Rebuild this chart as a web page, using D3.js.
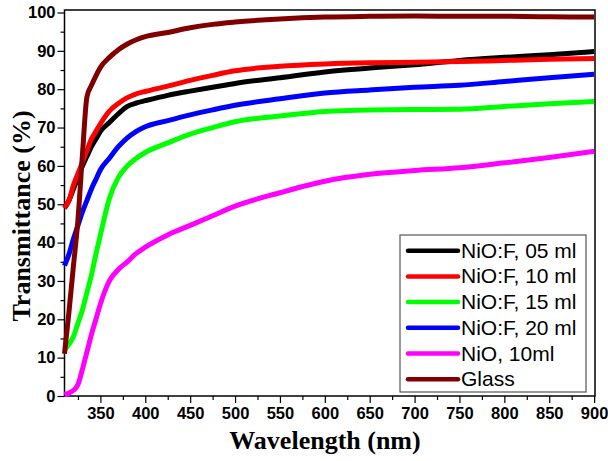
<!DOCTYPE html>
<html>
<head>
<meta charset="utf-8">
<script src="https://cdn.jsdelivr.net/npm/d3@7"></script>
<style>
  body { margin: 0; background: #fff; }
  .tick text { font-family: "Liberation Sans", Arial, sans-serif; font-weight: bold; font-size: 16.5px; fill: #000; }
  .title { font-family: "Liberation Serif", "Times New Roman", serif; font-weight: bold; font-size: 26px; }
  .legend text { font-family: "Liberation Sans", Arial, sans-serif; font-size: 21px; }
</style>
</head>
<body>
<svg id="chart" width="608" height="461"></svg>
<script>
// Wavelength grid (nm) shared by every curve.
const wavelength = [310, 315, 320, 325, 330, 335, 340, 345, 350, 360, 370, 380, 390, 400,
                    425, 450, 475, 500, 550, 600, 650, 700, 750, 800, 850, 900];

// Transmittance (%) of each sample.
const nioF05 = [49, 51, 54, 57, 60, 62.5, 65, 67, 69, 71.3, 73.6, 75.5, 76.4, 77,
                78.4, 79.5, 80.5, 81.5, 83, 84.5, 85.5, 86.4, 87.5, 88.3, 89, 89.8];
const nioF10 = [49, 51, 55, 58, 61, 64, 67, 69, 71, 74.3, 76.3, 77.8, 78.8, 79.4,
                80.8, 82.3, 83.6, 84.8, 86, 86.6, 86.9, 87, 87.2, 87.5, 87.8, 88];
const nioF15 = [12, 13.5, 15.5, 19, 22.5, 27, 31.5, 37, 42, 51.5, 57, 60, 62, 63.5,
                66, 68.3, 70, 71.5, 73, 74.2, 74.6, 74.7, 74.8, 75.5, 76.2, 76.8];
const nioF20 = [34, 37, 41, 44.5, 48, 51, 54, 56.5, 59, 62, 65, 67.3, 69, 70.2,
                71.8, 73.3, 74.6, 75.8, 77.5, 79, 79.8, 80.5, 81, 82, 83, 83.9];
const nio10  = [0.3, 0.8, 1.5, 3, 7, 11.5, 16, 20, 24, 30, 33, 35, 37.2, 38.8,
                42, 44.5, 47, 49.5, 53, 56, 57.8, 58.8, 59.5, 60.8, 62.2, 63.8];
const glass  = [11, 22, 34, 46, 63, 78, 81, 83.5, 85.7, 88.3, 90.3, 91.8, 92.9, 93.7,
                94.8, 96, 96.9, 97.5, 98.3, 98.8, 99, 99.1, 99, 99, 98.9, 98.8];

const seriesNames  = ['NiO:F, 05 ml', 'NiO:F, 10 ml', 'NiO:F, 15 ml', 'NiO:F, 20 ml', 'NiO, 10ml', 'Glass'];
const seriesValues = [nioF05, nioF10, nioF15, nioF20, nio10, glass];
const seriesColors = ['#000000', '#ff0000', '#00ff00', '#0000ff', '#ff00ff', '#800000'];

const xTicks = [350, 400, 450, 500, 550, 600, 650, 700, 750, 800, 850, 900];
const yTicks = [0, 10, 20, 30, 40, 50, 60, 70, 80, 90, 100];

// Plot box.
const box = { left: 64.5, right: 595, top: 10, bottom: 396 };

const svg = d3.select('#chart');

const x = d3.scaleLinear().domain([310, 901]).range([box.left, box.right]);
const y = d3.scaleLinear().domain([0, 100.65]).range([box.bottom, box.top]);

// Minor ticks.
const xMinor = d3.range(325, 901, 50);
const yMinor = d3.range(5, 100, 10);

svg.append('g')
  .attr('transform', `translate(0, ${box.bottom})`)
  .call(d3.axisBottom(x).tickValues(xMinor).tickSize(4).tickFormat(''))
  .call(g => g.select('.domain').remove());
svg.append('g')
  .attr('transform', `translate(${box.left}, 0)`)
  .call(d3.axisLeft(y).tickValues(yMinor).tickSize(4).tickFormat(''))
  .call(g => g.select('.domain').remove());

// Major axes.
svg.append('g')
  .attr('transform', `translate(0, ${box.bottom})`)
  .call(d3.axisBottom(x).tickValues(xTicks).tickSize(7).tickPadding(4).tickSizeOuter(0))
  .call(g => g.select('.domain').remove());
svg.append('g')
  .attr('transform', `translate(${box.left}, 0)`)
  .call(d3.axisLeft(y).tickValues(yTicks).tickSize(7).tickPadding(2).tickSizeOuter(0))
  .call(g => g.select('.domain').remove());

svg.selectAll('.tick line').attr('stroke', '#000').attr('stroke-width', 1.2);

// Frame.
svg.append('rect')
  .attr('x', box.left).attr('y', box.top)
  .attr('width', box.right - box.left).attr('height', box.bottom - box.top)
  .attr('fill', 'none').attr('stroke', '#000').attr('stroke-width', 1.5);

// Curves.
const line = d3.line()
  .x((d, i) => x(wavelength[i]))
  .y(d => y(d))
  .curve(d3.curveMonotoneX);

svg.append('g').selectAll('path')
  .data(seriesValues)
  .join('path')
  .attr('d', line)
  .attr('fill', 'none')
  .attr('stroke', (d, i) => seriesColors[i])
  .attr('stroke-width', 5)
  .attr('stroke-linejoin', 'round');

// Axis titles.
svg.append('text')
  .attr('class', 'title')
  .attr('x', 325).attr('y', 449)
  .attr('text-anchor', 'middle')
  .text('Wavelength (nm)');
svg.append('text')
  .attr('class', 'title')
  .attr('transform', 'translate(30, 216) rotate(-90)')
  .attr('text-anchor', 'middle')
  .text('Transmittance (%)');

// Legend.
const legend = svg.append('g').attr('class', 'legend');
legend.append('rect')
  .attr('x', 400).attr('y', 235)
  .attr('width', 186).attr('height', 157)
  .attr('fill', '#fff').attr('stroke', '#555').attr('stroke-width', 1.2);

const rows = legend.selectAll('g.row')
  .data(seriesNames)
  .join('g')
  .attr('class', 'row')
  .attr('transform', (d, i) => `translate(0, ${250.7 + i * 25.7})`);
rows.append('line')
  .attr('x1', 408).attr('x2', 458)
  .attr('stroke', (d, i) => seriesColors[i])
  .attr('stroke-width', 4.5)
  .attr('stroke-linecap', 'round');
rows.append('text')
  .attr('x', 461).attr('y', 7)
  .text(d => d);
</script>
</body>
</html>
